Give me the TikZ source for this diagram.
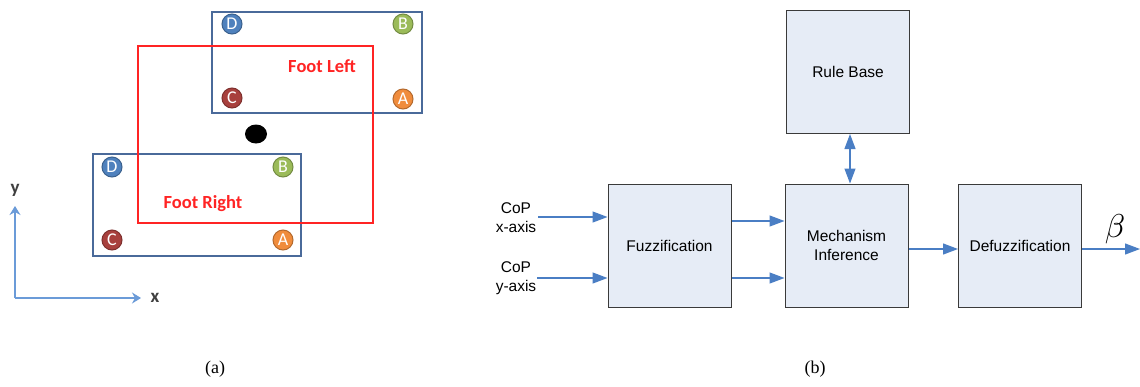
\documentclass[tikz,border=0pt]{standalone}
\usepackage{fontspec}
\setmainfont{Liberation Sans}
\newfontfamily\calibri{Carlito}
\newfontfamily\serifrm{Liberation Serif}
\usetikzlibrary{arrows.meta}
\definecolor{footblue}{HTML}{4A6A9A}
\definecolor{footred}{HTML}{FF2424}
\definecolor{dotD}{HTML}{4F81BD}
\definecolor{dotB}{HTML}{9BBB59}
\definecolor{dotC}{HTML}{A8403D}
\definecolor{dotA}{HTML}{F08C3C}
\definecolor{axisblue}{HTML}{6B9BD8}
\definecolor{flowblue}{HTML}{4A7EC4}
\definecolor{boxfill}{HTML}{E6ECF6}
\definecolor{boxline}{HTML}{3A3A3A}
\tikzset{
  footbox/.style={draw=footblue,line width=2pt},
  footzone/.style={draw=footred,line width=2.4pt},
  marker/.style={circle,inner sep=0pt,minimum size=20pt,text=white,line width=1pt,
    font=\calibri\fontsize{18}{18}\selectfont},
  footlabel/.style={text=footred,font=\calibri\bfseries\fontsize{18.5}{18.5}\selectfont},
  axis/.style={draw=axisblue,line width=2pt,-{Stealth[length=9pt,width=11pt,inset=3pt]}},
  axislabel/.style={text=black!75,font=\calibri\bfseries\fontsize{19}{19}\selectfont},
  block/.style={draw=boxline,fill=boxfill,line width=1pt,minimum width=123pt,
    minimum height=123pt,align=center,font=\fontsize{15.5}{19}\selectfont},
  flow/.style={draw=flowblue,line width=1.2pt,-{Triangle[length=15pt,width=11pt]}},
  flowboth/.style={draw=flowblue,line width=1.2pt,
    {Triangle[length=15pt,width=11pt]}-{Triangle[length=15pt,width=11pt]}},
  inlabel/.style={align=center,font=\fontsize{15.5}{19}\selectfont},
  caption/.style={font=\serifrm\fontsize{18}{18}\selectfont}
}
\begin{document}
\begin{tikzpicture}[x=1pt,y=-1pt]
\useasboundingbox (0,0) rectangle (1140,386);
\fill[white] (0,0) rectangle (1140,386);

% ---- (a) footprint layout ----
\draw[footbox] (212,12) rectangle (422,113);
\draw[footbox] (93,154) rectangle (301,256);
\draw[footzone] (138,46) rectangle (373,223);
\fill[black] (256,134) ellipse [x radius=11pt,y radius=9.5pt];

\node[footlabel] (fl) at (322,66) {Foot Left};
\node[footlabel] (fr) at (203,204) {Foot Right};

\node[marker,fill=dotD,draw=dotD!75!black] (lD) at (232,24) {D};
\node[marker,fill=dotB,draw=dotB!75!black] (lB) at (403,24) {B};
\node[marker,fill=dotC,draw=dotC!75!black] (lC) at (232,98) {C};
\node[marker,fill=dotA,draw=dotA!75!black] (lA) at (403,99) {A};
\node[marker,fill=dotD,draw=dotD!75!black] (rD) at (112,167) {D};
\node[marker,fill=dotB,draw=dotB!75!black] (rB) at (283,167) {B};
\node[marker,fill=dotC,draw=dotC!75!black] (rC) at (112,240) {C};
\node[marker,fill=dotA,draw=dotA!75!black] (rA) at (283,240) {A};

\coordinate (org) at (15,298);
\coordinate (ytip) at (15,206);
\coordinate (xtip) at (141,298);
\draw[axis] (org) -- (ytip);
\draw[axis] (org) -- (xtip);
\node[axislabel] (ylab) at (15,190) {y};
\node[axislabel] (xlab) at (155,298) {x};

\node[caption] (capa) at (215,369) {(a)};

% ---- (b) fuzzy controller ----
\node[block] (fuzz) at (669.5,245.5) {Fuzzification};
\node[block] (mech) at (846.5,245.5) {Mechanism\\Inference};
\node[block] (rule) at (848,72) {Rule Base};
\node[block] (defz) at (1020,245.5) {Defuzzification};

\node[inlabel] (inx) at (516,218) {CoP\\x-axis};
\node[inlabel] (iny) at (516,278) {CoP\\y-axis};
\coordinate (inxs) at (538,217);
\coordinate (inys) at (537,278);
\draw[flow] (inxs) -- (fuzz.west |- inxs);
\draw[flow] (inys) -- (fuzz.west |- inys);

\coordinate (f1) at (731,221);
\coordinate (f2) at (731,278);
\draw[flow] (fuzz.east |- f1) -- (mech.west |- f1);
\draw[flow] (fuzz.east |- f2) -- (mech.west |- f2);

\coordinate (m1) at (908,249);
\draw[flow] (mech.east |- m1) -- (defz.west |- m1);

\draw[flowboth] (rule.south -| 850,0) -- (mech.north -| 850,0);

\coordinate (outend) at (1140,249);
\draw[flow] (defz.east |- outend) -- (outend);
\node[scale=3.3,inner sep=0pt] (beta) at (1115,229) {$\beta$};

\node[caption] (capb) at (815,369) {(b)};
\end{tikzpicture}
\end{document}
